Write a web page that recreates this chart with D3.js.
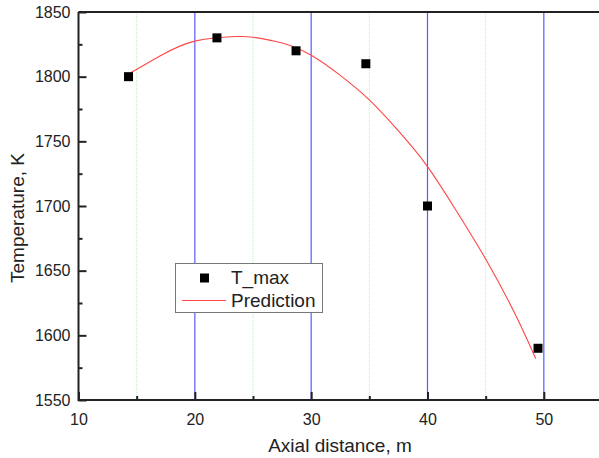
<!DOCTYPE html>
<html>
<head>
<meta charset="utf-8">
<script src="https://cdn.jsdelivr.net/npm/d3@7"></script>
<style>
  body { margin: 0; background: #fff; }
  svg { display: block; font-family: Arial, "Liberation Sans", sans-serif; }
</style>
</head>
<body>
<div id="chart"></div>
<script>
const WIDTH = 599
const HEIGHT = 458

// measured T_max points
const pointX = [14.3, 21.9, 28.7, 34.7, 40.0, 49.5]
const pointY = [1800, 1830, 1820, 1810, 1700, 1590]

// prediction curve
const predX = [14.3, 17, 20, 23.5, 25, 27.5, 30, 32.5, 35, 37.5, 40, 42.5, 45, 47.5, 49.3]
const predY = [1802, 1816, 1827.5, 1831, 1830.5, 1826, 1816.5, 1801, 1782, 1758, 1730.5, 1696, 1659, 1617, 1582]

const xTicks = [10, 20, 30, 40, 50]
const xMinor = [15, 25, 35, 45]
const yTicks = [1550, 1600, 1650, 1700, 1750, 1800, 1850]
const yMinor = [1575, 1625, 1675, 1725, 1775, 1825]

const margin = { left: 78.5, top: 12, bottom: 400, right: 602 }

const x = d3.scaleLinear().domain([10, 55]).range([margin.left, margin.right])
const y = d3.scaleLinear().domain([1550, 1850]).range([margin.bottom, margin.top])

const svg = d3.select('#chart').append('svg')
  .attr('width', WIDTH)
  .attr('height', HEIGHT)

// grid
svg.append('g').selectAll('line')
  .data(xMinor)
  .join('line')
  .attr('x1', d => x(d)).attr('x2', d => x(d))
  .attr('y1', margin.top).attr('y2', margin.bottom)
  .attr('stroke', '#b8f0b8')
  .attr('stroke-width', 1)
  .attr('stroke-dasharray', '1,1')

svg.append('g').selectAll('line')
  .data(xTicks.filter(d => d > 10))
  .join('line')
  .attr('x1', d => x(d)).attr('x2', d => x(d))
  .attr('y1', margin.top).attr('y2', margin.bottom)
  .attr('stroke', '#5a5aff')
  .attr('stroke-width', 1.2)

// axes
const xAxis = svg.append('g')
  .attr('transform', `translate(0,${margin.bottom})`)
  .call(d3.axisBottom(x).tickValues(xTicks).tickSize(-8).tickPadding(14).tickFormat(d3.format('d')))
xAxis.select('.domain').remove()

svg.append('g')
  .attr('transform', `translate(0,${margin.bottom})`)
  .call(d3.axisBottom(x).tickValues(xMinor).tickSize(-4).tickFormat(''))
  .select('.domain').remove()

const yAxis = svg.append('g')
  .attr('transform', `translate(${margin.left},0)`)
  .call(d3.axisLeft(y).tickValues(yTicks).tickSize(-8).tickPadding(8).tickFormat(d3.format('d')))
yAxis.select('.domain').remove()

svg.append('g')
  .attr('transform', `translate(${margin.left},0)`)
  .call(d3.axisLeft(y).tickValues(yMinor).tickSize(-4).tickFormat(''))
  .select('.domain').remove()

svg.selectAll('.tick line').attr('stroke', '#222').attr('stroke-width', 2)
svg.selectAll('.tick text').attr('font-size', 16).attr('fill', '#222')
  .attr('font-family', 'Arial, "Liberation Sans", sans-serif')
xAxis.selectAll('.tick text').attr('dy', '0.71em')

// frame lines
svg.append('path')
  .attr('d', `M${margin.left},${margin.top}H${margin.right}M${margin.left},${margin.top}V${margin.bottom}H${margin.right}`)
  .attr('fill', 'none')
  .attr('stroke', '#222')
  .attr('stroke-width', 2)

// prediction
const predData = predX.map((d, i) => [d, predY[i]])
svg.append('path')
  .datum(predData)
  .attr('fill', 'none')
  .attr('stroke', '#ff4646')
  .attr('stroke-width', 1.1)
  .attr('d', d3.line().x(d => x(d[0])).y(d => y(d[1])).curve(d3.curveNatural))

// points
const pts = pointX.map((d, i) => [d, pointY[i]])
svg.append('g').selectAll('rect')
  .data(pts)
  .join('rect')
  .attr('x', d => x(d[0]) - 4.5)
  .attr('y', d => y(d[1]) - 4.5)
  .attr('width', 9).attr('height', 9)
  .attr('fill', '#000')

// legend
const legend = svg.append('g')
legend.append('rect')
  .attr('x', 175.5).attr('y', 263.5)
  .attr('width', 147).attr('height', 49)
  .attr('fill', '#fff')
  .attr('stroke', '#777')
  .attr('stroke-width', 1)
legend.append('rect')
  .attr('x', 200).attr('y', 273.5).attr('width', 9).attr('height', 9).attr('fill', '#000')
legend.append('line')
  .attr('x1', 182).attr('x2', 226).attr('y1', 300.5).attr('y2', 300.5)
  .attr('stroke', '#ff4646').attr('stroke-width', 1.1)
legend.append('text').attr('x', 231).attr('y', 284).text('T_max')
  .attr('font-size', 19).attr('fill', '#222')
legend.append('text').attr('x', 231).attr('y', 307).text('Prediction')
  .attr('font-size', 19).attr('fill', '#222')

// axis titles
svg.append('text')
  .attr('x', 340).attr('y', 452)
  .attr('text-anchor', 'middle')
  .attr('font-size', 19).attr('fill', '#222')
  .text('Axial distance, m')

svg.append('text')
  .attr('transform', 'translate(24,218) rotate(-90)')
  .attr('text-anchor', 'middle')
  .attr('font-size', 19).attr('fill', '#222')
  .text('Temperature, K')
</script>
</body>
</html>
